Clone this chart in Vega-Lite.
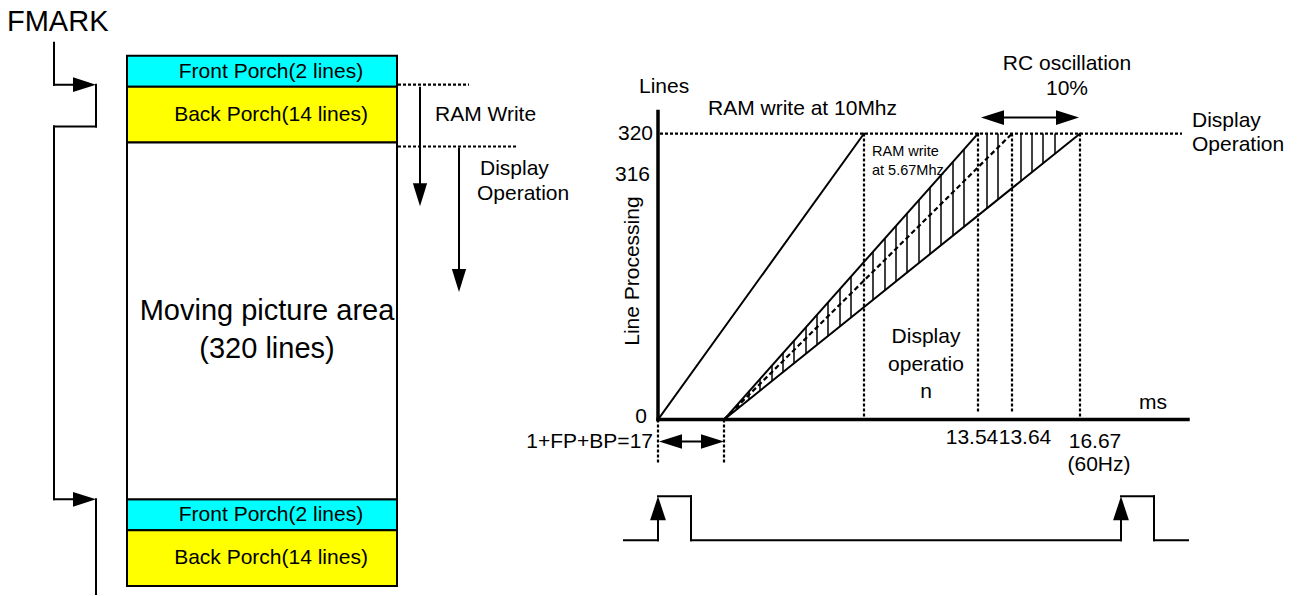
{
  "$schema": "https://vega.github.io/schema/vega-lite/v6.json",
  "width": 1301,
  "height": 596,
  "autosize": {"type": "fit", "contains": "padding"},
  "padding": 0,
  "background": "white",
  "config": {"view": {"stroke": null}, "text": {"font": "Liberation Sans", "color": "black"}},
  "datasets": {
    "thin": [
      {"x": 54, "y": 43, "x2": 54, "y2": 85},
      {"x": 54, "y": 85, "x2": 90, "y2": 85},
      {"x": 96, "y": 85, "x2": 96, "y2": 127},
      {"x": 96, "y": 127, "x2": 54, "y2": 127},
      {"x": 54, "y": 127, "x2": 54, "y2": 501},
      {"x": 54, "y": 501, "x2": 90, "y2": 501},
      {"x": 96, "y": 501, "x2": 96, "y2": 596},
      {"x": 420, "y": 88, "x2": 420, "y2": 200},
      {"x": 459, "y": 149, "x2": 459, "y2": 286},
      {"x": 658, "y": 421, "x2": 864, "y2": 134},
      {"x": 724, "y": 421, "x2": 978, "y2": 134},
      {"x": 724, "y": 421, "x2": 1080, "y2": 134},
      {"x": 990, "y": 118, "x2": 1070, "y2": 118},
      {"x": 665, "y": 443, "x2": 718, "y2": 443},
      {"x": 624, "y": 542, "x2": 658, "y2": 542},
      {"x": 658, "y": 542, "x2": 658, "y2": 505},
      {"x": 658, "y": 498, "x2": 691, "y2": 498},
      {"x": 691, "y": 498, "x2": 691, "y2": 542},
      {"x": 691, "y": 542, "x2": 1121, "y2": 542},
      {"x": 1121, "y": 542, "x2": 1121, "y2": 505},
      {"x": 1121, "y": 498, "x2": 1154, "y2": 498},
      {"x": 1154, "y": 498, "x2": 1154, "y2": 542},
      {"x": 1154, "y": 542, "x2": 1188, "y2": 542}
    ],
    "thick": [
      {"x": 658, "y": 112, "x2": 658, "y2": 421},
      {"x": 658, "y": 421, "x2": 1188, "y2": 421}
    ],
    "dotted": [
      {"x": 398, "y": 85, "x2": 469, "y2": 85},
      {"x": 398, "y": 147, "x2": 517, "y2": 147},
      {"x": 660, "y": 134, "x2": 1182, "y2": 134},
      {"x": 864, "y": 134, "x2": 864, "y2": 421},
      {"x": 978, "y": 134, "x2": 978, "y2": 413},
      {"x": 1012, "y": 134, "x2": 1012, "y2": 415},
      {"x": 1080, "y": 134, "x2": 1080, "y2": 421},
      {"x": 658, "y": 421, "x2": 658, "y2": 465},
      {"x": 724, "y": 421, "x2": 724, "y2": 465}
    ],
    "dashed": [
      {"x": 724, "y": 421, "x2": 1012, "y2": 134}
    ],
    "hatch": [
      {"x": 738, "y": 405.2, "x2": 738, "y2": 409.7},
      {"x": 749, "y": 392.8, "x2": 749, "y2": 400.8},
      {"x": 760, "y": 380.3, "x2": 760, "y2": 392.0},
      {"x": 772, "y": 366.8, "x2": 772, "y2": 382.3},
      {"x": 783, "y": 354.3, "x2": 783, "y2": 373.4},
      {"x": 794, "y": 341.9, "x2": 794, "y2": 364.6},
      {"x": 806, "y": 328.3, "x2": 806, "y2": 354.9},
      {"x": 817, "y": 315.9, "x2": 817, "y2": 346.0},
      {"x": 828, "y": 303.5, "x2": 828, "y2": 337.2},
      {"x": 840, "y": 289.9, "x2": 840, "y2": 327.5},
      {"x": 851, "y": 277.5, "x2": 851, "y2": 318.6},
      {"x": 873, "y": 252.6, "x2": 873, "y2": 300.9},
      {"x": 885, "y": 239.1, "x2": 885, "y2": 291.2},
      {"x": 896, "y": 226.7, "x2": 896, "y2": 282.3},
      {"x": 907, "y": 214.2, "x2": 907, "y2": 273.5},
      {"x": 919, "y": 200.7, "x2": 919, "y2": 263.8},
      {"x": 930, "y": 188.2, "x2": 930, "y2": 254.9},
      {"x": 941, "y": 175.8, "x2": 941, "y2": 246.1},
      {"x": 953, "y": 162.3, "x2": 953, "y2": 236.4},
      {"x": 964, "y": 149.8, "x2": 964, "y2": 227.5},
      {"x": 987, "y": 134, "x2": 987, "y2": 209.0},
      {"x": 998, "y": 134, "x2": 998, "y2": 200.1},
      {"x": 1021, "y": 134, "x2": 1021, "y2": 181.6},
      {"x": 1032, "y": 134, "x2": 1032, "y2": 172.7},
      {"x": 1043, "y": 134, "x2": 1043, "y2": 163.8},
      {"x": 1055, "y": 134, "x2": 1055, "y2": 154.2}
    ],
    "cyanBoxes": [
      {"x": 127, "y": 56, "x2": 397, "y2": 87},
      {"x": 127, "y": 501, "x2": 397, "y2": 532}
    ],
    "yellowBoxes": [
      {"x": 127, "y": 87, "x2": 397, "y2": 143},
      {"x": 127, "y": 532, "x2": 397, "y2": 588}
    ],
    "whiteBoxes": [
      {"x": 127, "y": 143, "x2": 397, "y2": 501}
    ],
    "arrowRight": [
      {"x": 96, "y": 85}, {"x": 96, "y": 501}, {"x": 1079, "y": 118}, {"x": 724, "y": 443}
    ],
    "arrowLeft": [
      {"x": 981, "y": 118}, {"x": 659, "y": 443}
    ],
    "arrowDown": [
      {"x": 420, "y": 207}, {"x": 459, "y": 293}
    ],
    "arrowUp": [
      {"x": 658, "y": 498}, {"x": 1121, "y": 498}
    ],
    "textLeftBig": [
      {"x": 7, "y": 22, "t": "FMARK"}
    ],
    "textPorch": [
      {"x": 271, "y": 72, "t": "Front Porch(2 lines)"},
      {"x": 271, "y": 115, "t": "Back Porch(14 lines)"},
      {"x": 271, "y": 517, "t": "Front Porch(2 lines)"},
      {"x": 271, "y": 560, "t": "Back Porch(14 lines)"}
    ],
    "textMoving": [
      {"x": 267, "y": 312, "t": "Moving picture area"},
      {"x": 267, "y": 350, "t": "(320 lines)"}
    ],
    "textLeftAlign": [
      {"x": 435, "y": 115, "t": "RAM Write"},
      {"x": 480, "y": 170, "t": "Display"},
      {"x": 477, "y": 195, "t": "Operation"},
      {"x": 639, "y": 87, "t": "Lines"},
      {"x": 708, "y": 109, "t": "RAM write at 10Mhz"},
      {"x": 1192, "y": 121, "t": "Display"},
      {"x": 1192, "y": 145, "t": "Operation"},
      {"x": 1139, "y": 404, "t": "ms"}
    ],
    "textCenter": [
      {"x": 1067, "y": 64, "t": "RC oscillation"},
      {"x": 1067, "y": 89, "t": "10%"},
      {"x": 926, "y": 338, "t": "Display"},
      {"x": 926, "y": 366, "t": "operatio"},
      {"x": 926, "y": 393, "t": "n"},
      {"x": 972, "y": 439, "t": "13.54"},
      {"x": 1025, "y": 439, "t": "13.64"},
      {"x": 1095, "y": 443, "t": "16.67"},
      {"x": 1099, "y": 467, "t": "(60Hz)"}
    ],
    "textRight": [
      {"x": 653, "y": 134, "t": "320"},
      {"x": 650, "y": 176, "t": "316"},
      {"x": 647, "y": 418, "t": "0"},
      {"x": 653, "y": 443, "t": "1+FP+BP=17"}
    ],
    "textSmall": [
      {"x": 872, "y": 153, "t": "RAM write"},
      {"x": 872, "y": 172, "t": "at 5.67Mhz"}
    ],
    "textRotated": [
      {"x": 633, "y": 272, "t": "Line Processing"}
    ]
  },
  "encoding": {
    "x": {"field": "x", "type": "quantitative", "scale": {"domain": [0, 1301], "nice": false, "zero": false}, "axis": null},
    "y": {"field": "y", "type": "quantitative", "scale": {"domain": [0, 596], "nice": false, "zero": false, "reverse": true}, "axis": null}
  },
  "layer": [
    {"data": {"name": "cyanBoxes"}, "mark": {"type": "rect", "fill": "#00FFFF", "stroke": "black", "strokeWidth": 2},
     "encoding": {"x2": {"field": "x2"}, "y2": {"field": "y2"}}},
    {"data": {"name": "yellowBoxes"}, "mark": {"type": "rect", "fill": "#FFFF00", "stroke": "black", "strokeWidth": 2},
     "encoding": {"x2": {"field": "x2"}, "y2": {"field": "y2"}}},
    {"data": {"name": "whiteBoxes"}, "mark": {"type": "rect", "fill": "white", "stroke": "black", "strokeWidth": 2},
     "encoding": {"x2": {"field": "x2"}, "y2": {"field": "y2"}}},
    {"data": {"name": "hatch"}, "mark": {"type": "rule", "color": "black", "strokeWidth": 1.5},
     "encoding": {"x2": {"field": "x2"}, "y2": {"field": "y2"}}},
    {"data": {"name": "dotted"}, "mark": {"type": "rule", "color": "black", "strokeWidth": 2.2, "strokeDash": [3, 2]},
     "encoding": {"x2": {"field": "x2"}, "y2": {"field": "y2"}}},
    {"data": {"name": "dashed"}, "mark": {"type": "rule", "color": "black", "strokeWidth": 2.2, "strokeDash": [5, 3]},
     "encoding": {"x2": {"field": "x2"}, "y2": {"field": "y2"}}},
    {"data": {"name": "thin"}, "mark": {"type": "rule", "color": "black", "strokeWidth": 2, "strokeCap": "square"},
     "encoding": {"x2": {"field": "x2"}, "y2": {"field": "y2"}}},
    {"data": {"name": "thick"}, "mark": {"type": "rule", "color": "black", "strokeWidth": 3.5, "strokeCap": "square"},
     "encoding": {"x2": {"field": "x2"}, "y2": {"field": "y2"}}},
    {"data": {"name": "arrowRight"}, "mark": {"type": "point", "shape": "M0,0L-2,-0.64L-2,0.64Z", "filled": true, "color": "black", "opacity": 1, "size": 529, "strokeWidth": 0}},
    {"data": {"name": "arrowLeft"}, "mark": {"type": "point", "shape": "M0,0L2,-0.64L2,0.64Z", "filled": true, "color": "black", "opacity": 1, "size": 529, "strokeWidth": 0}},
    {"data": {"name": "arrowDown"}, "mark": {"type": "point", "shape": "M0,0L-0.62,-2L0.62,-2Z", "filled": true, "color": "black", "opacity": 1, "size": 529, "strokeWidth": 0}},
    {"data": {"name": "arrowUp"}, "mark": {"type": "point", "shape": "M0,0L-0.66,2L0.66,2Z", "filled": true, "color": "black", "opacity": 1, "size": 576, "strokeWidth": 0}},
    {"data": {"name": "textLeftBig"}, "mark": {"type": "text", "align": "left", "baseline": "middle", "fontSize": 29},
     "encoding": {"text": {"field": "t"}}},
    {"data": {"name": "textPorch"}, "mark": {"type": "text", "align": "center", "baseline": "middle", "fontSize": 21},
     "encoding": {"text": {"field": "t"}}},
    {"data": {"name": "textMoving"}, "mark": {"type": "text", "align": "center", "baseline": "middle", "fontSize": 29},
     "encoding": {"text": {"field": "t"}}},
    {"data": {"name": "textLeftAlign"}, "mark": {"type": "text", "align": "left", "baseline": "middle", "fontSize": 21},
     "encoding": {"text": {"field": "t"}}},
    {"data": {"name": "textCenter"}, "mark": {"type": "text", "align": "center", "baseline": "middle", "fontSize": 21},
     "encoding": {"text": {"field": "t"}}},
    {"data": {"name": "textRight"}, "mark": {"type": "text", "align": "right", "baseline": "middle", "fontSize": 21},
     "encoding": {"text": {"field": "t"}}},
    {"data": {"name": "textSmall"}, "mark": {"type": "text", "align": "left", "baseline": "middle", "fontSize": 14.5},
     "encoding": {"text": {"field": "t"}}},
    {"data": {"name": "textRotated"}, "mark": {"type": "text", "align": "center", "baseline": "middle", "fontSize": 21, "angle": 270},
     "encoding": {"text": {"field": "t"}}}
  ]
}
